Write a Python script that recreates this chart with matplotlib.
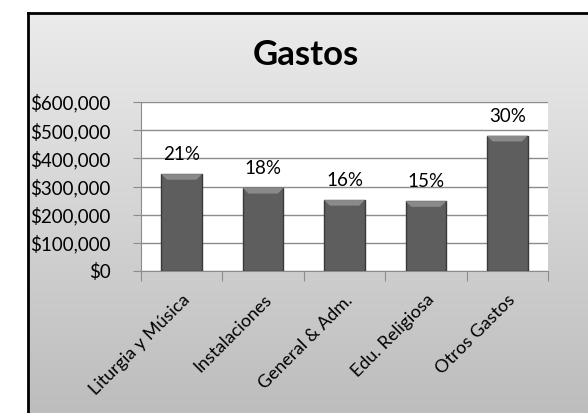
#!/usr/bin/env python3

import numpy as np
import matplotlib.pyplot as plt
from matplotlib.colors import LinearSegmentedColormap
from matplotlib.patches import Polygon
from matplotlib.ticker import FuncFormatter

categories = ['Liturgia y Música', 'Instalaciones', 'General & Adm.', 'Edu. Religiosa', 'Otros Gastos']
gastos = [344000, 295000, 252000, 248000, 480000]
pct_labels = ['21%', '18%', '16%', '15%', '30%']

plt.rcParams['font.family'] = ['Lato', 'DejaVu Sans']

fig = plt.figure(figsize=(5.88, 4.13), dpi=100)
fig.patch.set_facecolor('white')

# chart area: grey gradient with black frame (cut off right/bottom)
x0, y1 = 28/588, 1 - 13/413
bg = fig.add_axes([x0, 0, 1 - x0, y1], zorder=0)
grad = np.linspace(0, 1, 256).reshape(-1, 1)
bg.imshow(grad, aspect='auto', cmap=LinearSegmentedColormap.from_list('g', ['#ebebeb', '#bdbdbd']),
          extent=[0, 1, 0, 1], origin='upper')
bg.set_xlim(0, 1); bg.set_ylim(0, 1)
bg.set_xticks([]); bg.set_yticks([])
for s in ['right', 'bottom']:
    bg.spines[s].set_visible(False)
for s in ['left', 'top']:
    bg.spines[s].set_color('black')
    bg.spines[s].set_linewidth(2)

ax = fig.add_axes([141/588, 1 - 271/413, 407/588, 169/413], zorder=1)
ax.set_facecolor('white')

x = np.arange(len(categories))
bars = ax.bar(x, gastos, width=0.5, color='#5e5e5e', edgecolor='#3a3a3a', linewidth=1, zorder=3)

# bevel highlight at the top of each bar
for r in bars:
    bx, bw, top = r.get_x(), r.get_width(), r.get_height()
    ins, bh = 0.07, 20000
    ax.add_patch(Polygon([(bx, top), (bx + bw, top), (bx + bw - ins, top - bh), (bx + ins, top - bh)],
                         closed=True, facecolor='#8a8a8a', edgecolor='none', zorder=4))

for xi, v, lab in zip(x, gastos, pct_labels):
    ax.annotate(lab, (xi, v), xytext=(0, 8), textcoords='offset points',
                ha='center', va='bottom', fontsize=13.5, color='black')

ax.set_xlim(-0.5, len(categories) - 0.5)
ax.set_ylim(0, 600000)
ax.set_yticks(np.arange(0, 600001, 100000))
ax.yaxis.set_major_formatter(FuncFormatter(lambda v, p: f'${v:,.0f}'))
ax.yaxis.grid(True, color='#8c8c8c', linewidth=1, zorder=0)
ax.set_axisbelow(True)

ax.set_xticks(np.arange(-0.5, len(categories)))
ax.set_xticklabels([])
ax.set_xticks(x, minor=True)
ax.set_xticklabels(categories, minor=True, rotation=45, ha='right', rotation_mode='anchor', fontsize=13)
ax.tick_params(axis='x', which='minor', length=0, pad=15)
ax.tick_params(axis='x', which='major', length=7, color='#8c8c8c')
ax.tick_params(axis='y', length=6, color='#8c8c8c', labelsize=13.5, pad=16)

for s in ['top', 'right']:
    ax.spines[s].set_visible(False)
for s in ['left', 'bottom']:
    ax.spines[s].set_color('#8c8c8c')

fig.text(306/588, 1 - 55/413, 'Gastos', ha='center', va='center', fontsize=25, fontweight='bold')

fig.savefig('out.png', dpi=100)
